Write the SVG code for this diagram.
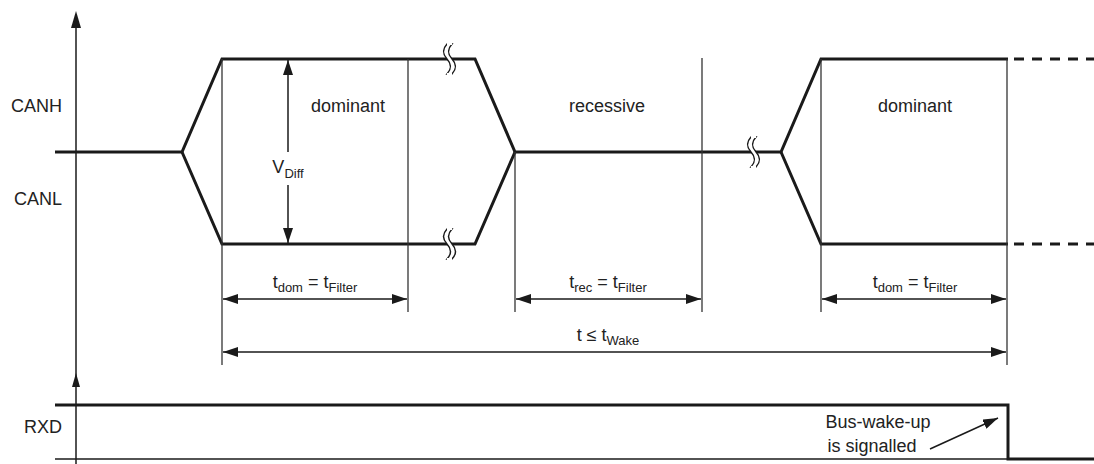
<svg xmlns="http://www.w3.org/2000/svg" width="1094" height="464" viewBox="0 0 1094 464">
<style>
.sig{fill:none;stroke:#1a1a1a;stroke-width:3;stroke-linejoin:miter}
.thin{fill:none;stroke:#333;stroke-width:1.3}
.dim{fill:none;stroke:#1a1a1a;stroke-width:1.5}
.dash{fill:none;stroke:#1a1a1a;stroke-width:3;stroke-dasharray:10 8}
.brk{fill:#fff;stroke:#1a1a1a;stroke-width:1.4}
text{font-family:"Liberation Sans",Arial,sans-serif;font-size:18px;fill:#222}
.sub{font-size:13px}
</style>
<defs>
<marker id="ah" viewBox="0 0 15 10" refX="15" refY="5" markerWidth="15" markerHeight="10" markerUnits="userSpaceOnUse" orient="auto-start-reverse">
<path d="M0,0 L15,5 L0,10 Z" fill="#1a1a1a"/>
</marker>
</defs>
<g id="axes">
<line class="dim" x1="76" y1="20" x2="76" y2="464"/>
<path d="M76,11 L71,28 L81,28 Z" fill="#1a1a1a"/>
<path d="M76,373 L72,387 L80,387 Z" fill="#1a1a1a"/>
<text x="62" y="112" text-anchor="end">CANH</text>
<text x="62" y="205" text-anchor="end">CANL</text>
<text x="62" y="433" text-anchor="end">RXD</text>
</g>
<g id="can-signal">
<path class="sig" d="M55,152 L182,152 L222,59 L475,59 L515,152 L781,152 L821,59 L1008,59"/>
<path class="sig" d="M182,152 L222,244 L475,244 L515,152 M781,152 L821,244 L1008,244"/>
<line class="dash" x1="1014" y1="59" x2="1094" y2="59"/>
<line class="dash" x1="1014" y1="244" x2="1094" y2="244"/>
<path class="brk" d="M447,44 q-7,7.5 0,15 q7,7.5 0,15 l5,0 q7,-7.5 0,-15 q-7,-7.5 0,-15 Z"/>
<path class="brk" d="M447,229 q-7,7.5 0,15 q7,7.5 0,15 l5,0 q7,-7.5 0,-15 q-7,-7.5 0,-15 Z"/>
<path class="brk" d="M751,137 q-7,7.5 0,15 q7,7.5 0,15 l5,0 q7,-7.5 0,-15 q-7,-7.5 0,-15 Z"/>
<path d="M447,44 l5,0 M447,74 l5,0 M447,229 l5,0 M447,259 l5,0 M751,137 l5,0 M751,167 l5,0" stroke="#fff" stroke-width="1.8"/>
</g>
<g id="timing-lines">
<line class="thin" x1="222" y1="59" x2="222" y2="365"/>
<line class="thin" x1="408" y1="59" x2="408" y2="312"/>
<line class="thin" x1="515" y1="152" x2="515" y2="312"/>
<line class="thin" x1="702" y1="58" x2="702" y2="312"/>
<line class="thin" x1="821" y1="59" x2="821" y2="312"/>
<line class="thin" x1="1007" y1="59" x2="1007" y2="365"/>
</g>
<g id="labels">
<text x="348" y="112" text-anchor="middle">dominant</text>
<text x="607" y="112" text-anchor="middle">recessive</text>
<text x="915" y="112" text-anchor="middle">dominant</text>
<text x="288" y="173" text-anchor="middle">V<tspan class="sub" dy="5">Diff</tspan></text>
</g>
<g id="connectors">
<line class="dim" x1="288" y1="60" x2="288" y2="152" marker-start="url(#ah)"/>
<line class="dim" x1="288" y1="185" x2="288" y2="243" marker-end="url(#ah)"/>
<line class="dim" x1="223" y1="299" x2="407" y2="299" marker-start="url(#ah)" marker-end="url(#ah)"/>
<line class="dim" x1="516" y1="299" x2="701" y2="299" marker-start="url(#ah)" marker-end="url(#ah)"/>
<line class="dim" x1="822" y1="299" x2="1006" y2="299" marker-start="url(#ah)" marker-end="url(#ah)"/>
<line class="dim" x1="223" y1="352" x2="1006" y2="352" marker-start="url(#ah)" marker-end="url(#ah)"/>
<line class="dim" x1="930" y1="449" x2="998" y2="418" marker-end="url(#ah)"/>
</g>
<g id="dim-labels">
<text x="315" y="288" text-anchor="middle">t<tspan class="sub" dy="4">dom</tspan><tspan dy="-4"> = t</tspan><tspan class="sub" dy="4">Filter</tspan></text>
<text x="608" y="288" text-anchor="middle">t<tspan class="sub" dy="4">rec</tspan><tspan dy="-4"> = t</tspan><tspan class="sub" dy="4">Filter</tspan></text>
<text x="915" y="288" text-anchor="middle">t<tspan class="sub" dy="4">dom</tspan><tspan dy="-4"> = t</tspan><tspan class="sub" dy="4">Filter</tspan></text>
<text x="608" y="341" text-anchor="middle">t ≤ t<tspan class="sub" dy="4">Wake</tspan></text>
</g>
<g id="rxd-signal">
<line class="dim" x1="55" y1="459" x2="1008" y2="459"/>
<path class="sig" d="M55,405 L1008,405 L1008,459 L1094,459"/>
<text x="878" y="428" text-anchor="middle">Bus-wake-up</text>
<text x="872" y="452" text-anchor="middle">is signalled</text>
</g>
</svg>
